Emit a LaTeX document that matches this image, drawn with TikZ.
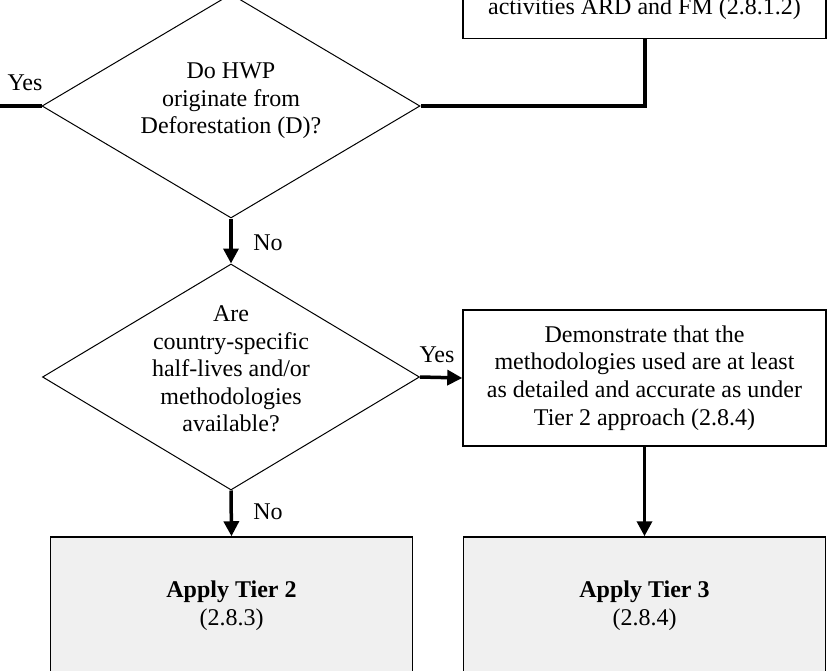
\documentclass[tikz,border=0pt]{standalone}
\usepackage{fontspec}
\setmainfont{Liberation Serif}
\usetikzlibrary{shapes.geometric,arrows.meta}
\definecolor{tierfill}{RGB}{240,240,240}
\begin{document}
\begin{tikzpicture}[x=0.5pt,y=-0.5pt,
  every node/.style={font=\fontsize{12}{13.8}\selectfont},
  decision/.style={draw, line width=0.5pt, shape=diamond, inner sep=0pt,
    fill=white},
  qtext/.style={align=center, inner sep=0pt},
  procbox/.style={draw, line width=0.75pt, align=center, fill=white,
    inner sep=0pt, minimum width=181.5pt},
  tierbox/.style={draw, line width=0.75pt, align=center, fill=tierfill,
    inner sep=0pt, minimum width=181pt, minimum height=69pt},
  flow/.style={line width=1.75pt, -{Triangle[length=7.5pt,width=7.5pt]}},
  link/.style={line width=2pt},
  lbl/.style={inner sep=0pt}]

\useasboundingbox (0,0) rectangle (827,671);
\clip (0,0) rectangle (827,671);

% boxes
\node[procbox, minimum height=29.5pt] (prev) at (644.5,9)
  {activities ARD and FM (2.8.1.2)};
\node[procbox, minimum height=68pt] (demo) at (644.5,378)
  {Demonstrate that the\\methodologies used are at least\\as detailed and accurate as under\\Tier 2 approach (2.8.4)};
\node[tierbox] (tier2) at (231.5,606) {\textbf{Apply Tier 2}\\(2.8.3)};
\node[tierbox] (tier3) at (644.5,606) {\textbf{Apply Tier 3}\\(2.8.4)};

% decisions: outline first, question text on top
\node[decision, minimum width=189pt, minimum height=112pt] (defor) at (231,106) {};
\node[qtext] (defortext) at (231,101) {Do HWP\\originate from\\Deforestation (D)?};
\node[decision, minimum width=188.5pt, minimum height=113pt] (avail) at (231,377) {};
\node[qtext] (availtext) at (231,369)
  {Are\\country-specific\\half-lives and/or\\methodologies\\available?};

\coordinate (yesout) at (0,106);

% connectors
\draw[link] (prev.south) |- (defor.east);
\draw[link] (defor.west) -- (yesout);
\draw[flow] (defor.south) -- (avail.north);
\draw[flow] (avail.east) -- (demo.west);
\draw[flow] (avail.south) -- (tier2.north);
\draw[flow] (demo.south) -- (tier3.north);

% labels
\node[lbl] (lyes1) at (25,83) {Yes};
\node[lbl] (lno1) at (268,243) {No};
\node[lbl] (lyes2) at (437,355) {Yes};
\node[lbl] (lno2) at (268,512) {No};
\end{tikzpicture}
\end{document}
